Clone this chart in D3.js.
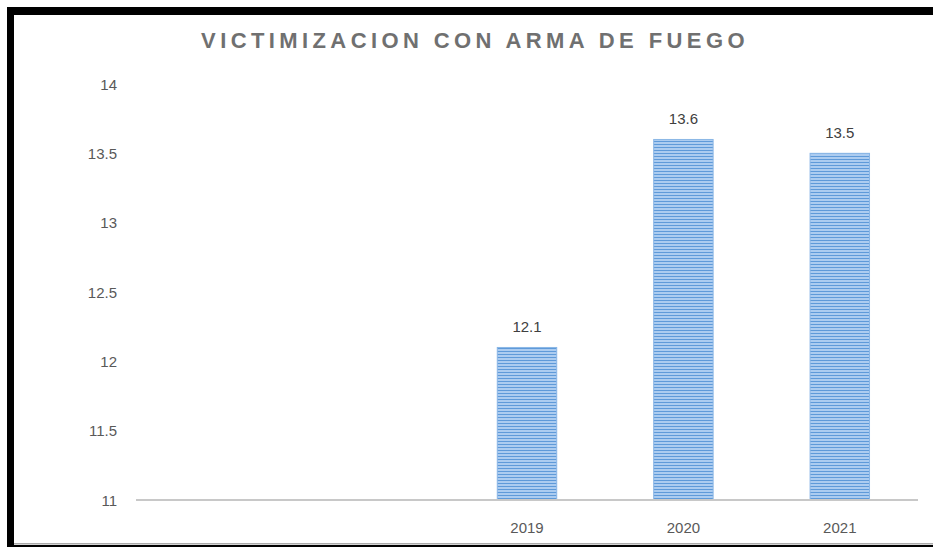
<!DOCTYPE html>
<html><head><meta charset="utf-8">
<script src="https://cdn.jsdelivr.net/npm/d3@7"></script>
<style>html,body{margin:0;padding:0;background:#fff;}svg{display:block;}</style>
</head><body>
<script>
const categories = ["c1", "c2", "2019", "2020", "2021"];
const categoryLabels = ["", "", "2019", "2020", "2021"];
const values = [null, null, 12.1, 13.6, 13.5];
const yTicks = [11, 11.5, 12, 12.5, 13, 13.5, 14];
const title = "VICTIMIZACION CON ARMA DE FUEGO";

const W = 933, H = 547;
const svg = d3.select("body").append("svg").attr("width", W).attr("height", H);
const defs = svg.append("defs");
const pat = defs.append("pattern").attr("id", "stripes").attr("patternUnits", "userSpaceOnUse")
  .attr("width", 6).attr("height", 3);
pat.append("rect").attr("width", 6).attr("height", 3).attr("fill", "#acccf0");
pat.append("rect").attr("width", 6).attr("height", 1).attr("fill", "#5f9ad9");

svg.append("rect").attr("width", W).attr("height", H).attr("fill", "#fff");

const mLeft = 136, mRight = 918, mTop = 84, mBottom = 500;
const x = d3.scaleBand().domain(categories).range([mLeft, mRight]).paddingInner(0.62).paddingOuter(0.31);
const y = d3.scaleLinear().domain([11, 14]).range([mBottom, mTop]);

// title
svg.append("text").attr("x", 475).attr("y", 48).attr("text-anchor", "middle")
  .attr("font-family", "Liberation Sans, Arial, sans-serif").attr("font-weight", "bold")
  .attr("font-size", 22).attr("letter-spacing", 4.4).attr("fill", "#707070").text(title);

// y axis labels
const yAxis = d3.axisLeft(y).tickValues(yTicks).tickSize(0).tickPadding(0).tickFormat(d3.format("~g"));
const ga = svg.append("g").attr("transform", "translate(117,0)").call(yAxis);
ga.select(".domain").remove();
ga.selectAll("text").attr("font-family", "Liberation Sans, Arial, sans-serif").attr("font-size", 15)
  .attr("fill", "#595959").attr("dy", "0.35em");

// bars
const data = categories.map((c, i) => ({c, v: values[i], label: categoryLabels[i]}));
const bars = data.filter(d => d.v != null);
svg.selectAll("rect.bar").data(bars).join("rect").attr("class", "bar")
  .attr("x", d => x(d.c)).attr("width", x.bandwidth())
  .attr("y", d => y(d.v)).attr("height", d => y(11) - y(d.v))
  .attr("fill", "url(#stripes)").attr("stroke", "#8ab6e6").attr("stroke-width", 1);

svg.selectAll("text.val").data(bars).join("text").attr("class", "val")
  .attr("x", d => x(d.c) + x.bandwidth() / 2).attr("y", d => y(d.v) - 15)
  .attr("text-anchor", "middle").attr("font-family", "Liberation Sans, Arial, sans-serif")
  .attr("font-size", 15).attr("fill", "#404040").text(d => d3.format(".1f")(d.v));

// x axis
const xAxis = d3.axisBottom(x).tickSize(0).tickPadding(0).tickFormat((d, i) => categoryLabels[i]);
const gx = svg.append("g").attr("transform", `translate(0,${mBottom})`).call(xAxis);
gx.select(".domain").remove();
gx.selectAll("text").attr("font-family", "Liberation Sans, Arial, sans-serif").attr("font-size", 15)
  .attr("fill", "#595959").attr("dy", 0).attr("y", 33);
svg.append("line").attr("x1", mLeft).attr("x2", mRight).attr("y1", mBottom).attr("y2", mBottom)
  .attr("stroke", "#c8c8c8").attr("stroke-width", 2);

// frame
svg.append("rect").attr("x", 7).attr("y", 7).attr("width", W - 7).attr("height", 8).attr("fill", "#000");
svg.append("rect").attr("x", 7).attr("y", 7).attr("width", 7).attr("height", H - 7).attr("fill", "#000");
svg.append("rect").attr("x", 14).attr("y", 543).attr("width", W - 14).attr("height", 1.5).attr("fill", "#aaa");
svg.append("rect").attr("x", 14).attr("y", 545).attr("width", W - 14).attr("height", 2).attr("fill", "#000");
</script>
</body></html>
